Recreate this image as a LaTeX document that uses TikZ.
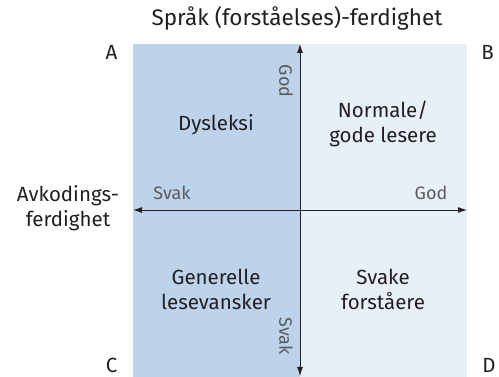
\documentclass[tikz,border=0pt]{standalone}
\usepackage{fontspec}
\setmainfont{Fira Sans}
\usetikzlibrary{arrows.meta}
\definecolor{weakblue}{HTML}{BDD3EC}
\definecolor{paleblue}{HTML}{E7EFF9}
\definecolor{inkgray}{HTML}{231F20}
\definecolor{axisgray}{HTML}{5A5A5A}
\tikzset{
  label/.style={text=inkgray, align=center, font=\fontsize{20.5}{25}\selectfont},
  corner/.style={label, anchor=base, inner sep=0pt},
  axislabel/.style={text=axisgray, font=\fontsize{18}{20}\selectfont},
  axis/.style={inkgray, line width=0.9pt, {Latex[length=9pt,width=6pt]}-{Latex[length=9pt,width=6pt]}}
}

\begin{document}
\begin{tikzpicture}[x=1pt,y=-1pt]
        \useasboundingbox (0,0) rectangle (499,377);
        \fill [weakblue] (133,44) rectangle (300,377);
        \fill [paleblue] (300,44) rectangle (467,377);

        \coordinate (north) at (300,44);
        \coordinate (south) at (300,376);
        \coordinate (west) at (133,210);
        \coordinate (east) at (467,210);
        \draw [axis] (south) -- (north);
        \draw [axis] (west) -- (east);

        \node [label, font=\fontsize{22.5}{25}\selectfont] (title) at (297,18) {Språk (forståelses)-ferdighet};
        \node [corner] (a) at (111.5,60) {A};
        \node [corner] (b) at (487.5,60) {B};
        \node [corner] (c) at (111.5,373) {C};
        \node [corner] (d) at (489,373) {D};
        \node [label] (decoding) at (68,208) {Avkodings-\\ferdighet};

        \node [axislabel] (weakx) at (172,193) {Svak};
        \node [axislabel] (goodx) at (431,193) {God};
        \node [axislabel, rotate=-90] (goody) at (286,81) {God};
        \node [axislabel, rotate=-90] (weaky) at (286,336) {Svak};

        \node [label] (dyslexia) at (216,125) {Dysleksi};
        \node [label] (normal) at (383,124) {Normale/\\gode lesere};
        \node [label] (general) at (216,289) {Generelle\\lesevansker};
        \node [label] (poor) at (383,289) {Svake\\forståere};
\end{tikzpicture}
\end{document}
